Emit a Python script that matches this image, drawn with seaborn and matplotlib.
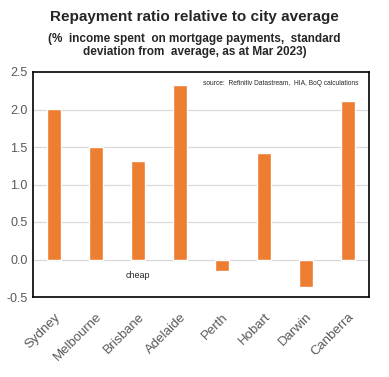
import numpy as np
import pandas as pd
import matplotlib
matplotlib.use("Agg")
import matplotlib.pyplot as plt
import seaborn as sns

cities = ["Sydney", "Melbourne", "Brisbane", "Adelaide", "Perth", "Hobart", "Darwin", "Canberra"]
ratio = [2.01, 1.50, 1.32, 2.33, -0.15, 1.42, -0.37, 2.12]
yticks = [-0.5, 0.0, 0.5, 1.0, 1.5, 2.0, 2.5]

sns.set_style("white")
plt.rcParams["font.family"] = ["Liberation Sans", "DejaVu Sans"]

df = pd.DataFrame({"city": cities, "ratio": ratio})

fig = plt.figure(figsize=(3.89, 3.77), dpi=100)
ax = fig.add_axes([33/389, 1 - 297/377, 336/389, 225/377])

for y in yticks[1:-1]:
    ax.axhline(y, color="#d9d9d9", lw=0.9, zorder=0)

sns.barplot(data=df, x="city", y="ratio", color="#ED7D31", width=0.31,
            saturation=1, ax=ax, zorder=2)

ax.set_ylim(-0.5, 2.5)
ax.set_xlim(-0.5, len(cities) - 0.5)
ax.set_yticks(yticks)
ax.set_yticklabels([f"{v:.1f}" for v in yticks], color="#595959", fontsize=9)
ax.set_xticks(range(len(cities)))
ax.set_xticklabels(cities, rotation=45, ha="right", rotation_mode="anchor",
                   color="#595959", fontsize=9.5)
ax.tick_params(axis="y", length=0, pad=4)
ax.tick_params(axis="x", length=0, pad=10)
ax.set_xlabel("")
ax.set_ylabel("")
for s in ax.spines.values():
    s.set_visible(True)
    s.set_color("black")
    s.set_linewidth(1.2)

ax.text(2.0, -0.22, "cheap", fontsize=6.5, ha="center", va="center")
ax.text(0.97, 0.95, "source:  Refinitiv Datastream,  HIA, BoQ calculations",
        transform=ax.transAxes, fontsize=4.8, ha="right", va="center")

fig.text(0.5, 0.955, "Repayment ratio relative to city average", ha="center",
         va="center", fontsize=11, fontweight="bold")
fig.text(0.5, 0.88, "(%  income spent  on mortgage payments,  standard\ndeviation from  average, as at Mar 2023)",
         ha="center", va="center", fontsize=8.5, fontweight="bold", linespacing=1.1)

fig.savefig("out.png", dpi=100)
